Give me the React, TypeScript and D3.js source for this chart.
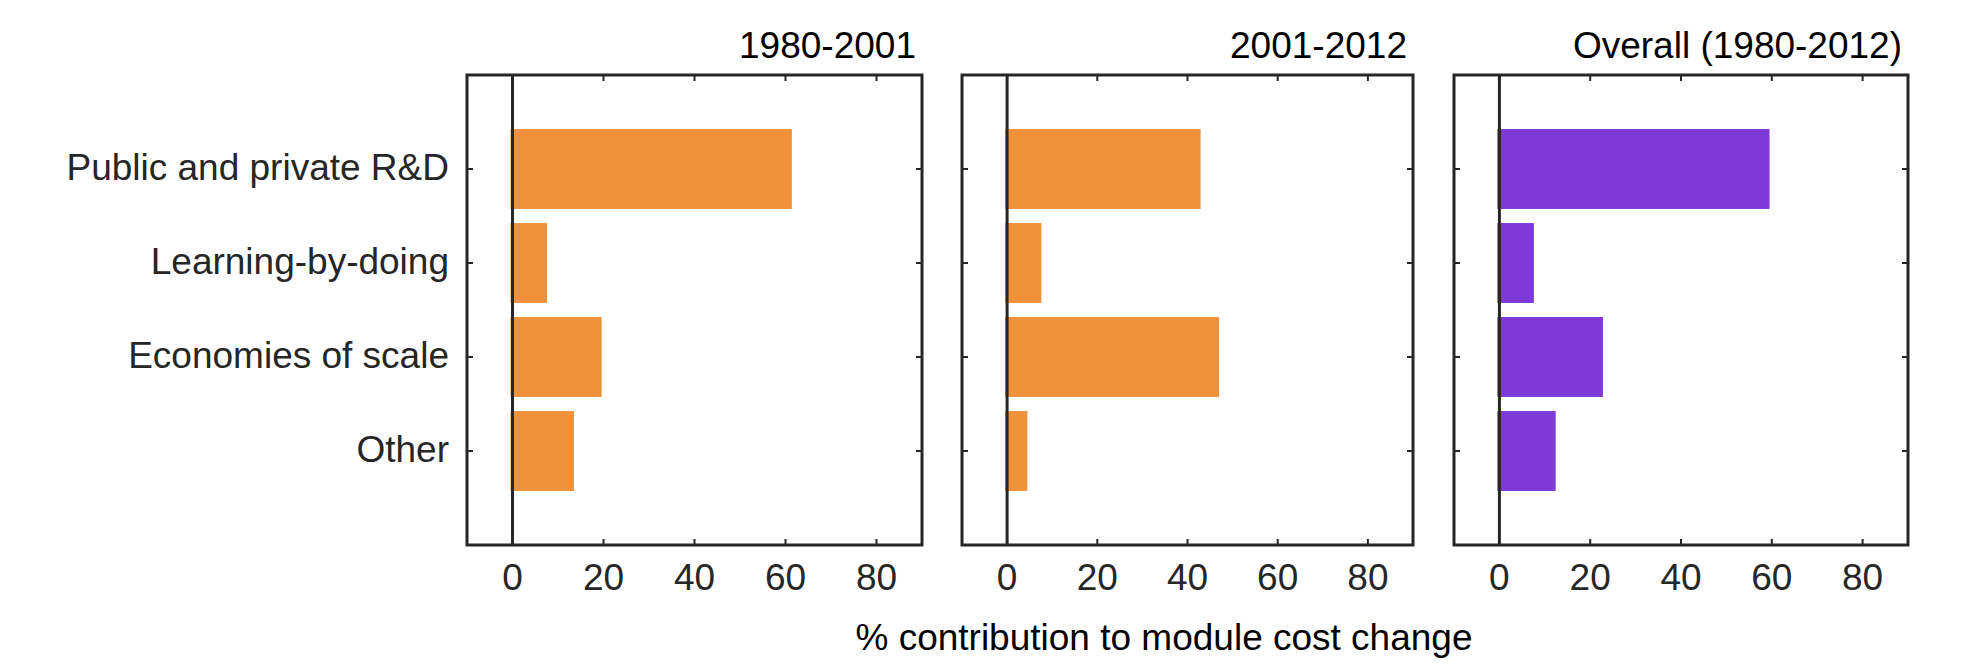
import React from "react";
import * as d3 from "d3";

const categories = ["Public and private R&D", "Learning-by-doing", "Economies of scale", "Other"];
const panelTitles = ["1980-2001", "2001-2012", "Overall (1980-2012)"];
const values1980_2001 = [61.4, 7.6, 19.6, 13.5];
const values2001_2012 = [42.9, 7.6, 47.0, 4.5];
const valuesOverall = [59.5, 7.6, 22.8, 12.4];
const xTicks = [0, 20, 40, 60, 80];
const xDomain = [-10, 90];
const xLabel = "% contribution to module cost change";

const ORANGE = "#F0923A";
const PURPLE = "#7D3AD8";
const AXIS = "#262626";
const FONT = "'Liberation Sans', Arial, Helvetica, sans-serif";

const panels = [
  { title: panelTitles[0], values: values1980_2001, color: ORANGE, left: 467, right: 922 },
  { title: panelTitles[1], values: values2001_2012, color: ORANGE, left: 962, right: 1413 },
  { title: panelTitles[2], values: valuesOverall, color: PURPLE, left: 1454, right: 1908 },
];

const TOP = 75;
const BOTTOM = 545;
const FS = 37;
const TICK = 6;

export default function App() {
  const y = d3.scaleLinear().domain([0, categories.length + 1]).range([TOP, BOTTOM]);
  const barHalf = 0.425;
  return (
    <svg
      width={1976}
      height={672}
      viewBox="0 0 1976 672"
      style={{ position: "absolute", left: 0, top: 0, background: "#fff" }}
      fontFamily={FONT}
    >
      <rect x={0} y={0} width={1976} height={672} fill="#fff" />
      {panels.map((p, pi) => {
        const x = d3.scaleLinear().domain(xDomain).range([p.left, p.right]);
        return (
          <g key={pi}>
            {p.values.map((v, i) => (
              <rect
                key={i}
                x={x(0) - 2}
                y={y(i + 1 - barHalf)}
                width={x(v) - x(0) + 2}
                height={y(i + 1 + barHalf) - y(i + 1 - barHalf)}
                fill={p.color}
              />
            ))}
            <line x1={x(0)} x2={x(0)} y1={TOP} y2={BOTTOM} stroke={AXIS} strokeWidth={3} />
            {xTicks.map((t) => (
              <g key={t}>
                <line x1={x(t)} x2={x(t)} y1={BOTTOM} y2={BOTTOM - TICK} stroke={AXIS} strokeWidth={2} />
                <line x1={x(t)} x2={x(t)} y1={TOP} y2={TOP + TICK} stroke={AXIS} strokeWidth={2} />
                <text x={x(t)} y={590} textAnchor="middle" fontSize={FS} fill={AXIS}>
                  {t}
                </text>
              </g>
            ))}
            {categories.map((c, i) => (
              <g key={c}>
                <line x1={p.left} x2={p.left + TICK} y1={y(i + 1)} y2={y(i + 1)} stroke={AXIS} strokeWidth={2} />
                <line x1={p.right} x2={p.right - TICK} y1={y(i + 1)} y2={y(i + 1)} stroke={AXIS} strokeWidth={2} />
                {pi === 0 && (
                  <text x={449} y={y(i + 1) + 11} textAnchor="end" fontSize={FS} fill={AXIS}>
                    {c}
                  </text>
                )}
              </g>
            ))}
            <rect
              x={p.left}
              y={TOP}
              width={p.right - p.left}
              height={BOTTOM - TOP}
              fill="none"
              stroke={AXIS}
              strokeWidth={3}
            />
            <text x={p.right - 6} y={58} textAnchor="end" fontSize={FS} fill="#000">
              {p.title}
            </text>
          </g>
        );
      })}
      <text x={1164} y={650} textAnchor="middle" fontSize={FS} fill="#000">
        {xLabel}
      </text>
    </svg>
  );
}
